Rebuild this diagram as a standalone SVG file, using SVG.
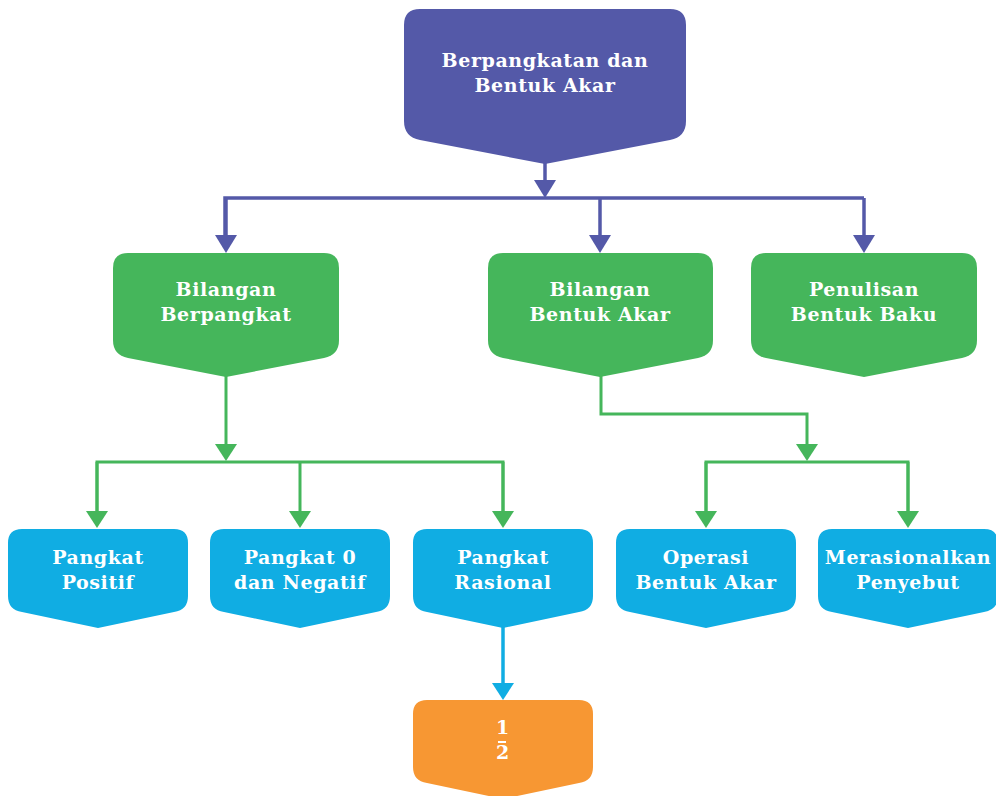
<svg xmlns="http://www.w3.org/2000/svg" width="996" height="796" viewBox="0 0 996 796">
<defs>
<style>
.t{font-family:"DejaVu Serif","Liberation Serif",serif;font-weight:bold;font-size:19px;fill:#fff;text-anchor:middle;letter-spacing:0.6px}
.pu{fill:#5459A8}.gr{fill:#45B65B}.bl{fill:#10ADE3}.or{fill:#F79733}
.lp{stroke:#5459A8;stroke-width:3.5;fill:none}
.lg{stroke:#45B65B;stroke-width:3;fill:none}
.lb{stroke:#10ADE3;stroke-width:3.5;fill:none}
</style>
<marker id="ap" markerUnits="userSpaceOnUse" markerWidth="18" markerHeight="22" viewBox="0 0 18 22" refX="0" refY="11" orient="auto"><path d="M0,0 L18,11 L0,22 Z" fill="#5459A8"/></marker>
<marker id="ag" markerUnits="userSpaceOnUse" markerWidth="17" markerHeight="22" viewBox="0 0 17 22" refX="0" refY="11" orient="auto"><path d="M0,0 L17,11 L0,22 Z" fill="#45B65B"/></marker>
<marker id="ab" markerUnits="userSpaceOnUse" markerWidth="17" markerHeight="22" viewBox="0 0 17 22" refX="0" refY="11" orient="auto"><path d="M0,0 L17,11 L0,22 Z" fill="#10ADE3"/></marker>
</defs>

<g id="connectors">
<path class="lp" d="M545,163 V180" marker-end="url(#ap)"/>
<path class="lp" d="M225,236 V198 H864"/>
<path class="lp" d="M226,198 V235" marker-end="url(#ap)"/>
<path class="lp" d="M600,198 V235" marker-end="url(#ap)"/>
<path class="lp" d="M864,198 V235" marker-end="url(#ap)"/>
<path class="lg" d="M226,376 V444" marker-end="url(#ag)"/>
<path class="lg" d="M97,511 V462 H503 V511"/>
<path class="lg" d="M97,462 V511" marker-end="url(#ag)"/>
<path class="lg" d="M300,462 V511" marker-end="url(#ag)"/>
<path class="lg" d="M503,462 V511" marker-end="url(#ag)"/>
<path class="lg" d="M601,376 V414 H807 V444" marker-end="url(#ag)"/>
<path class="lg" d="M706,511 V462 H908 V511"/>
<path class="lg" d="M706,462 V511" marker-end="url(#ag)"/>
<path class="lg" d="M908,462 V511" marker-end="url(#ag)"/>
<path class="lb" d="M503,627 V683" marker-end="url(#ab)"/>
</g>

<g id="n-root">
<path class="pu" d="M420,9 H670 Q686,9 686,25 V121 Q686,137 670,140 L545,164 L420,140 Q404,137 404,121 V25 Q404,9 420,9 Z"/>
<text class="t" x="545" y="67">Berpangkatan dan</text>
<text class="t" x="545" y="92">Bentuk Akar</text>
</g>

<g id="n-berpangkat">
<path class="gr" d="M128,253 H324 Q339,253 339,268 V340 Q339,355 324,358 L226,377 L128,358 Q113,355 113,340 V268 Q113,253 128,253 Z"/>
<text class="t" x="226" y="296">Bilangan</text>
<text class="t" x="226" y="321">Berpangkat</text>
</g>

<g id="n-akar">
<path class="gr" d="M503,253 H698 Q713,253 713,268 V340 Q713,355 698,358 L600,377 L503,358 Q488,355 488,340 V268 Q488,253 503,253 Z"/>
<text class="t" x="600" y="296">Bilangan</text>
<text class="t" x="600" y="321">Bentuk Akar</text>
</g>

<g id="n-baku">
<path class="gr" d="M766,253 H962 Q977,253 977,268 V340 Q977,355 962,358 L864,377 L766,358 Q751,355 751,340 V268 Q751,253 766,253 Z"/>
<text class="t" x="864" y="296">Penulisan</text>
<text class="t" x="864" y="321">Bentuk Baku</text>
</g>

<g id="n-positif">
<path class="bl" d="M22,529 H174 Q188,529 188,543 V596 Q188,610 174,612 L98,628 L22,612 Q8,610 8,596 V543 Q8,529 22,529 Z"/>
<text class="t" x="98" y="564">Pangkat</text>
<text class="t" x="98" y="589">Positif</text>
</g>

<g id="n-nol">
<path class="bl" d="M224,529 H376 Q390,529 390,543 V596 Q390,610 376,612 L300,628 L224,612 Q210,610 210,596 V543 Q210,529 224,529 Z"/>
<text class="t" x="300" y="564">Pangkat 0</text>
<text class="t" x="300" y="589">dan Negatif</text>
</g>

<g id="n-rasional">
<path class="bl" d="M427,529 H579 Q593,529 593,543 V596 Q593,610 579,612 L503,628 L427,612 Q413,610 413,596 V543 Q413,529 427,529 Z"/>
<text class="t" x="503" y="564">Pangkat</text>
<text class="t" x="503" y="589">Rasional</text>
</g>

<g id="n-operasi">
<path class="bl" d="M630,529 H782 Q796,529 796,543 V596 Q796,610 782,612 L706,628 L630,612 Q616,610 616,596 V543 Q616,529 630,529 Z"/>
<text class="t" x="706" y="564">Operasi</text>
<text class="t" x="706" y="589">Bentuk Akar</text>
</g>

<g id="n-penyebut">
<path class="bl" d="M832,529 H984 Q998,529 998,543 V596 Q998,610 984,612 L908,628 L832,612 Q818,610 818,596 V543 Q818,529 832,529 Z"/>
<text class="t" x="908" y="564">Merasionalkan</text>
<text class="t" x="908" y="589">Penyebut</text>
</g>

<g id="n-half">
<path class="or" d="M427,700 H579 Q593,700 593,714 V767 Q593,781 579,783 L503,799 L427,783 Q413,781 413,767 V714 Q413,700 427,700 Z"/>
<text class="t" x="503" y="734">1</text>
<rect x="498" y="741" width="8" height="2" fill="#fff"/>
<text class="t" x="503" y="759">2</text>
</g>
</svg>
